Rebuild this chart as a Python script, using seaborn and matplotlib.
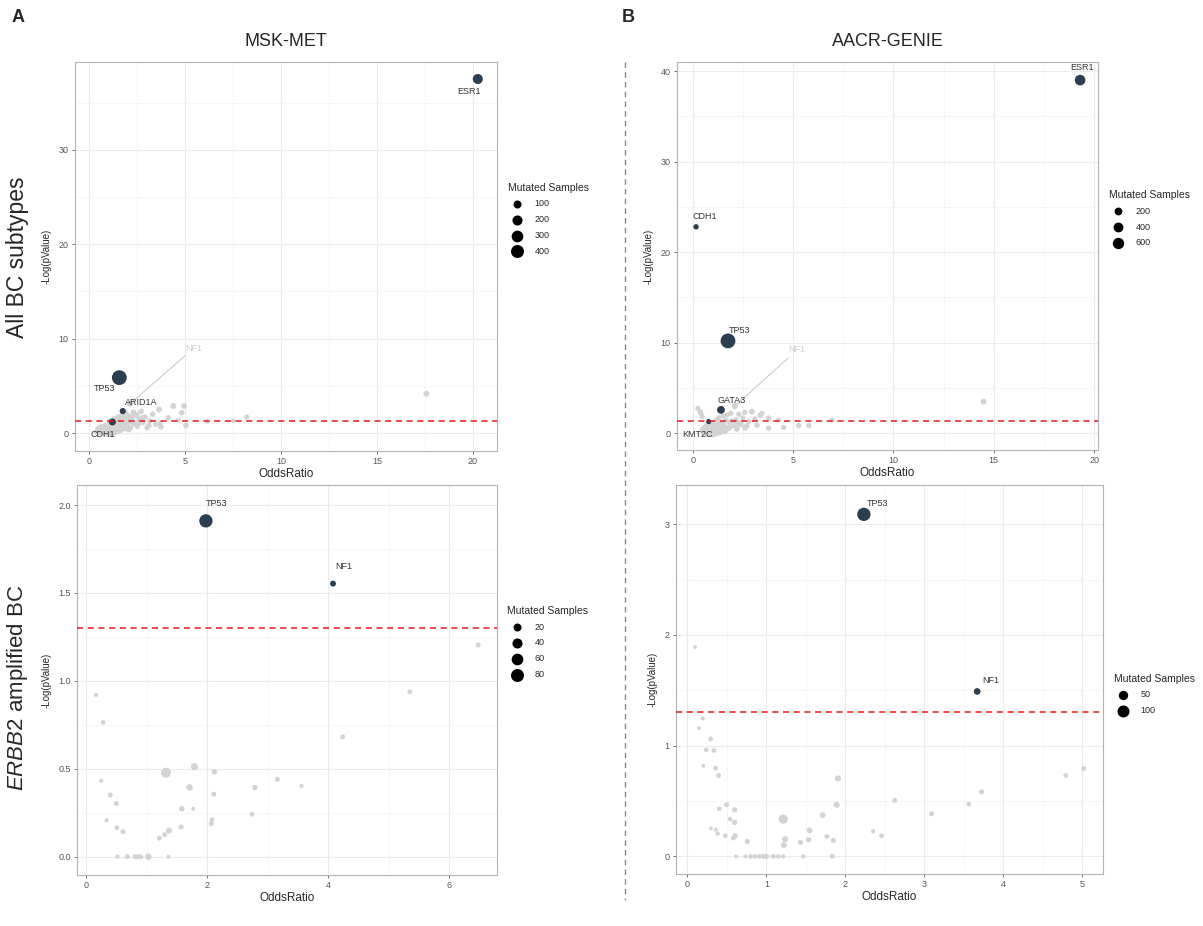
import numpy as np
import pandas as pd
import matplotlib.pyplot as plt
import seaborn as sns
from matplotlib.lines import Line2D

# ---- MSK-MET, all BC subtypes ----
tl_genes = ["ESR1", "TP53", "ARID1A", "CDH1"]
tl_gene_or = [20.25, 1.56, 1.74, 1.20]
tl_gene_lp = [37.5, 5.87, 2.33, 1.17]
tl_gene_n = [200, 560, 40, 60]
tl_bg_or = [0.35, 0.42, 0.5, 0.55, 0.6, 0.65, 0.7, 0.75, 0.8, 0.85, 0.9, 0.92, 0.95, 1.0, 1.02,
            1.05, 1.08, 1.1, 1.12, 1.15, 1.18, 1.22, 1.25, 1.28, 1.3, 1.35, 1.38, 1.42, 1.45, 1.5,
            1.52, 1.58, 1.62, 1.66, 1.7, 1.75, 1.8, 1.85, 1.9, 1.95, 2.0, 2.05, 2.12, 2.15, 2.2,
            2.3, 2.35, 2.45, 2.5, 2.6, 2.7, 2.8, 2.9, 3.0, 3.15, 3.3, 3.45, 3.63, 3.68, 3.73,
            4.11, 4.375, 4.64, 4.81, 4.93, 5.03, 6.15, 7.5, 8.2, 17.57,
            0.6, 0.72, 0.88, 0.98, 1.12, 1.25, 1.4, 1.55, 1.7, 1.88, 2.05, 2.25, 2.55, 2.75, 3.1]
tl_bg_lp = [0.10, 0.45, 0.2, 0.05, 0.35, 0.15, 0.6, 0.05, 0.3, 0.8, 0.1, 0.5, 0.02, 0.25, 0.9,
            0.05, 0.55, 0.15, 1.3, 0.7, 0.35, 0.1, 0.95, 0.5, 1.5, 0.25, 0.75, 1.1, 0.45, 1.7,
            0.9, 0.3, 1.3, 0.65, 1.9, 1.05, 0.5, 1.5, 2.1, 0.85, 1.25, 1.8, 3.1, 0.6, 1.6,
            2.2, 1.0, 1.9, 0.7, 1.4, 2.3, 1.1, 1.7, 0.55, 1.3, 2.0, 0.9, 2.5, 1.0, 0.64,
            1.6, 2.86, 1.34, 2.16, 2.86, 0.81, 1.24, 1.3, 1.7, 4.17,
            0.6, 0.2, 0.45, 0.7, 0.55, 0.3, 0.9, 0.6, 1.3, 1.0, 0.4, 1.2, 1.0, 1.6, 0.8]
tl_bg_n = [16, 9, 25, 20, 30, 40, 16, 50, 60, 25, 80, 70, 100, 120, 40,
           140, 80, 130, 25, 60, 90, 110, 45, 70, 25, 90, 60, 40, 80, 30,
           60, 50, 40, 70, 25, 50, 40, 40, 25, 30, 60, 30, 36, 25, 36,
           30, 25, 40, 16, 30, 25, 20, 25, 16, 20, 25, 16, 36, 25, 25,
           25, 36, 16, 25, 30, 30, 16, 12, 20, 36,
           60, 80, 70, 90, 80, 70, 60, 60, 50, 50, 40, 40, 30, 30, 25]

# ---- AACR-GENIE, all BC subtypes ----
tr_genes = ["ESR1", "CDH1", "TP53", "GATA3", "KMT2C"]
tr_gene_or = [19.3, 0.17, 1.76, 1.41, 0.80]
tr_gene_lp = [39.0, 22.8, 10.2, 2.58, 1.29]
tr_gene_n = [500, 50, 1200, 200, 40]
tr_bg_or = [0.25, 0.38, 0.41, 0.47, 0.5, 0.55, 0.6, 0.65, 0.7, 0.75, 0.8, 0.85, 0.9, 0.92, 0.95,
            1.0, 1.02, 1.05, 1.08, 1.1, 1.15, 1.18, 1.2, 1.25, 1.28, 1.3, 1.35, 1.4, 1.45, 1.5,
            1.55, 1.6, 1.65, 1.7, 1.8, 1.85, 1.9, 2.0, 2.1, 2.15, 2.2, 2.3, 2.4, 2.5, 2.6,
            2.7, 2.8, 2.95, 3.1, 3.2, 3.37, 3.45, 3.78, 3.78, 4.28, 4.53, 5.28, 5.78, 6.94, 14.49,
            0.62, 0.78, 0.95, 1.12, 1.3, 1.48, 1.65, 1.95, 2.25, 2.6]
tr_bg_lp = [2.76, 2.39, 2.2, 1.83, 0.4, 0.1, 0.6, 0.2, 0.9, 0.05, 0.35, 0.7, 0.1, 1.1, 0.45,
            0.02, 0.8, 0.25, 1.2, 0.5, 0.1, 0.9, 1.5, 0.35, 0.65, 1.7, 0.2, 1.05, 0.55, 1.9,
            0.8, 0.3, 1.4, 2.0, 0.6, 1.2, 2.2, 0.9, 3.0, 1.5, 0.5, 2.1, 1.0, 1.7, 2.3,
            0.8, 1.3, 2.39, 1.6, 0.9, 2.0, 2.2, 1.66, 0.55, 1.45, 0.66, 0.85, 0.85, 1.47, 3.5,
            0.25, 0.55, 0.3, 0.75, 0.45, 0.95, 0.6, 1.3, 1.1, 0.6]
tr_bg_n = [30, 45, 45, 40, 60, 110, 80, 140, 60, 200, 120, 80, 180, 50, 130,
           260, 80, 200, 60, 150, 230, 80, 40, 160, 100, 40, 180, 80, 110, 40,
           100, 150, 60, 40, 100, 60, 40, 80, 90, 50, 80, 40, 60, 40, 50,
           50, 40, 70, 40, 50, 60, 40, 55, 45, 40, 45, 45, 45, 40, 69,
           150, 160, 200, 170, 150, 130, 110, 90, 70, 60]

# ---- MSK-MET, ERBB2 amplified ----
bl_genes = ["TP53", "NF1"]
bl_gene_or = [1.98, 4.08]
bl_gene_lp = [1.91, 1.553]
bl_gene_n = [85, 7]
bl_bg_or = [6.48, 5.35, 4.24, 0.165, 0.28, 1.32, 1.79, 2.12, 1.71, 0.25, 0.40, 0.50, 2.11, 3.16,
            3.56, 2.79, 1.58, 1.77, 0.34, 0.51, 0.61, 2.08, 2.07, 2.74, 1.57, 1.21, 1.30, 1.37,
            0.52, 0.68, 0.81, 0.86, 0.90, 1.03, 1.36]
bl_bg_lp = [1.204, 0.938, 0.682, 0.921, 0.764, 0.478, 0.512, 0.483, 0.394, 0.432, 0.351, 0.303,
            0.356, 0.440, 0.402, 0.394, 0.273, 0.273, 0.207, 0.165, 0.142, 0.210, 0.188, 0.241,
            0.169, 0.106, 0.125, 0.148, 0.0, 0.0, 0.0, 0.0, 0.0, 0.0, 0.0]
bl_bg_n = [3, 3, 3, 1, 2, 39, 13, 5, 10, 1, 3, 3, 3, 3, 1, 5, 5, 1, 1, 2, 3, 3, 3, 3, 3, 3, 3, 7,
           1, 3, 3, 3, 3, 10, 1]

# ---- AACR-GENIE, ERBB2 amplified ----
br_genes = ["TP53", "NF1"]
br_gene_or = [2.234, 3.668]
br_gene_lp = [3.09, 1.49]
br_gene_n = [131, 17]
br_bg_or = [0.097, 0.194, 0.148, 0.295, 0.240, 0.337, 0.202, 0.358, 0.396, 1.906, 1.889, 0.405,
            0.497, 0.599, 0.540, 0.599, 0.299, 0.363, 0.384, 0.481, 0.607, 0.582, 1.214, 1.239,
            1.223, 0.759, 1.433, 1.535, 1.547, 1.712, 1.766, 1.847, 2.352, 2.458, 2.626, 3.090,
            3.562, 3.723, 4.789, 5.017, 0.616, 0.734, 0.80, 0.856, 0.911, 0.965, 1.003, 1.088,
            1.151, 1.214, 1.467, 1.834]
br_bg_lp = [1.89, 1.246, 1.159, 1.062, 0.963, 0.957, 0.819, 0.797, 0.731, 0.704, 0.466, 0.430,
            0.466, 0.421, 0.337, 0.307, 0.253, 0.241, 0.205, 0.187, 0.187, 0.166, 0.337, 0.156,
            0.102, 0.135, 0.126, 0.150, 0.235, 0.373, 0.181, 0.144, 0.226, 0.187, 0.506, 0.385,
            0.472, 0.584, 0.731, 0.794, 0.0, 0.0, 0.0, 0.0, 0.0, 0.0, 0.0, 0.0, 0.0, 0.0, 0.0, 0.0]
br_bg_n = [1, 2, 1, 4, 3, 4, 1, 4, 4, 12, 12, 4, 5, 6, 4, 8, 1, 1, 2, 3, 6, 4, 49, 12, 10, 6, 6,
           6, 9, 10, 4, 5, 2, 4, 5, 5, 4, 5, 4, 5, 1, 1, 3, 3, 3, 5, 6, 4, 3, 2, 2, 4]

DARK = "#2c3e50"
GREY = "#d3d3d3"
THRESH = -np.log10(0.05)

sns.set_theme(style="whitegrid")
plt.rcParams['font.family'] = ['Liberation Sans', 'DejaVu Sans']
plt.rcParams['mathtext.fontset'] = 'custom'
plt.rcParams['mathtext.it'] = 'Liberation Sans:italic'
plt.rcParams['mathtext.rm'] = 'Liberation Sans'


def marker_area(n, b):
    # ggplot-like size scale: diameter grows with sqrt(count)
    return (0.72 * (3 + b * np.sqrt(n))) ** 2


def make_df(g_or, g_lp, g_n, bg_or, bg_lp, bg_n):
    bg = pd.DataFrame({"OddsRatio": bg_or, "logp": bg_lp, "n": bg_n, "grp": "ns"})
    sig = pd.DataFrame({"OddsRatio": g_or, "logp": g_lp, "n": g_n, "grp": "sig"})
    return pd.concat([bg, sig], ignore_index=True)


def draw_panel(ax, df, b, xlim, ylim, xmaj, xmin, ymaj, ymin, legend_vals, leg_y):
    sizes = {v: marker_area(v, b) for v in df["n"].unique()}
    sns.scatterplot(data=df, x="OddsRatio", y="logp", hue="grp", size="n", sizes=sizes,
                    palette={"ns": GREY, "sig": DARK}, linewidth=0, alpha=1,
                    legend=False, ax=ax, zorder=3)
    ax.axhline(THRESH, color="#e31a1c", ls=(0, (4, 3)), lw=1.1, zorder=4)
    ax.set_xlim(*xlim)
    ax.set_ylim(*ylim)
    ax.set_xticks(xmaj)
    ax.set_xticks(xmin, minor=True)
    ax.set_yticks(ymaj)
    ax.set_yticks(ymin, minor=True)
    ax.grid(which="major", color="#ebebeb", lw=0.8)
    ax.grid(which="minor", color="#f3f3f3", lw=0.5)
    for s in ax.spines.values():
        s.set_color("#b3b3b3")
        s.set_linewidth(0.8)
    ax.tick_params(which="major", length=2.5, width=0.6, color="#555555",
                   labelsize=6.5, labelcolor="#555555", pad=2, bottom=True, left=True)
    ax.tick_params(which="minor", length=0)
    ax.set_xlabel("OddsRatio", fontsize=8.5, labelpad=1)
    ax.set_ylabel("-Log(pValue)", fontsize=7, labelpad=5)
    handles = [ax.scatter([], [], s=marker_area(v, b), color="black", linewidth=0)
               for v in legend_vals]
    leg = ax.legend(handles, [str(v) for v in legend_vals], title="Mutated Samples",
                    loc="upper left", bbox_to_anchor=(1.025, leg_y), frameon=False,
                    fontsize=6.5, title_fontsize=7.5, labelspacing=0.75,
                    handletextpad=1.0, borderaxespad=0, borderpad=0)
    leg._legend_box.align = "left"


def label(ax, text, x, y, dx, dy, ha="center", color="#333333"):
    ax.annotate(text, (x, y), xytext=(dx, dy), textcoords="offset points",
                ha=ha, va="center", fontsize=6.5, color=color, zorder=5)


fig = plt.figure(figsize=(12.03, 9.26), dpi=100)
ax_tl = fig.add_axes([75 / 1203, 1 - 451 / 926, 422 / 1203, 389 / 926])
ax_bl = fig.add_axes([77 / 1203, 1 - 875 / 926, 420 / 1203, 390 / 926])
ax_tr = fig.add_axes([677 / 1203, 1 - 450 / 926, 421 / 1203, 388 / 926])
ax_br = fig.add_axes([676 / 1203, 1 - 874 / 926, 427 / 1203, 389 / 926])

df_tl = make_df(tl_gene_or, tl_gene_lp, tl_gene_n, tl_bg_or, tl_bg_lp, tl_bg_n)
draw_panel(ax_tl, df_tl, 0.5, (-0.75, 21.25), (-1.9, 39.3), [0, 5, 10, 15, 20],
           [2.5, 7.5, 12.5, 17.5], [0, 10, 20, 30], [5, 15, 25, 35], [100, 200, 300, 400], 0.69)
label(ax_tl, "ESR1", tl_gene_or[0], tl_gene_lp[0], -6, -9)
label(ax_tl, "TP53", tl_gene_or[1], tl_gene_lp[1], -11, -8)
label(ax_tl, "ARID1A", tl_gene_or[2], tl_gene_lp[2], 13, 6)
label(ax_tl, "CDH1", tl_gene_or[3], tl_gene_lp[3], -7, -9)
ax_tl.annotate("NF1", (2.12, 3.1), xytext=(5.0, 9.0), textcoords="data", ha="left", va="center",
               fontsize=6.5, color="#cccccc",
               arrowprops=dict(arrowstyle="-", color="#cccccc", lw=0.8, shrinkA=0, shrinkB=2))

df_tr = make_df(tr_gene_or, tr_gene_lp, tr_gene_n, tr_bg_or, tr_bg_lp, tr_bg_n)
draw_panel(ax_tr, df_tr, 0.341, (-0.78, 20.19), (-1.85, 41.0), [0, 5, 10, 15, 20],
           [2.5, 7.5, 12.5, 17.5], [0, 10, 20, 30, 40], [5, 15, 25, 35], [200, 400, 600], 0.67)
label(ax_tr, "ESR1", tr_gene_or[0], tr_gene_lp[0], 1, 9)
label(ax_tr, "CDH1", tr_gene_or[1], tr_gene_lp[1], 6, 7.5)
label(ax_tr, "TP53", tr_gene_or[2], tr_gene_lp[2], 8, 7.5)
label(ax_tr, "GATA3", tr_gene_or[3], tr_gene_lp[3], 8, 7)
label(ax_tr, "KMT2C", tr_gene_or[4], tr_gene_lp[4], -8, -9)
ax_tr.annotate("NF1", (2.1, 3.0), xytext=(4.78, 9.2), textcoords="data", ha="left", va="center",
               fontsize=6.5, color="#cccccc",
               arrowprops=dict(arrowstyle="-", color="#cccccc", lw=0.8, shrinkA=0, shrinkB=2))

df_bl = make_df(bl_gene_or, bl_gene_lp, bl_gene_n, bl_bg_or, bl_bg_lp, bl_bg_n)
draw_panel(ax_bl, df_bl, 1.118, (-0.15, 6.79), (-0.104, 2.114), [0, 2, 4, 6], [1, 3, 5],
           [0, 0.5, 1.0, 1.5, 2.0], [0.25, 0.75, 1.25, 1.75], [20, 40, 60, 80], 0.69)
ax_bl.set_yticklabels(["0.0", "0.5", "1.0", "1.5", "2.0"])
label(ax_bl, "TP53", bl_gene_or[0], bl_gene_lp[0], 7.5, 12.5)
label(ax_bl, "NF1", bl_gene_or[1], bl_gene_lp[1], 7.5, 12.5)

df_br = make_df(br_gene_or, br_gene_lp, br_gene_n, br_bg_or, br_bg_lp, br_bg_n)
draw_panel(ax_br, df_br, 0.9, (-0.143, 5.26), (-0.159, 3.355), [0, 1, 2, 3, 4, 5],
           [0.5, 1.5, 2.5, 3.5, 4.5], [0, 1, 2, 3], [0.5, 1.5, 2.5], [50, 100], 0.515)
label(ax_br, "TP53", br_gene_or[0], br_gene_lp[0], 10, 8)
label(ax_br, "NF1", br_gene_or[1], br_gene_lp[1], 9.5, 8)

# panel letters, column titles, row titles
fig.text(12 / 1203, 1 - 18 / 926, "A", fontsize=13, fontweight="bold", va="center", ha="left")
fig.text(622 / 1203, 1 - 18 / 926, "B", fontsize=13, fontweight="bold", va="center", ha="left")
fig.text(286 / 1203, 1 - 41 / 926, "MSK-MET", fontsize=13, ha="center", va="center")
fig.text(888 / 1203, 1 - 41 / 926, "AACR-GENIE", fontsize=13, ha="center", va="center")
fig.text(18 / 1203, 1 - 257 / 926, "All BC subtypes", fontsize=16.5, rotation=90,
         ha="center", va="center")
fig.text(18 / 1203, 1 - 688 / 926, r"$\mathit{ERBB2}$ amplified BC", fontsize=16,
         rotation=90, ha="center", va="center")
fig.add_artist(Line2D([625 / 1203, 625 / 1203], [1 - 62 / 926, 1 - 900 / 926],
                      transform=fig.transFigure, color="#888888", lw=1, ls=(0, (4, 3))))

fig.savefig("out.png", dpi=100)
